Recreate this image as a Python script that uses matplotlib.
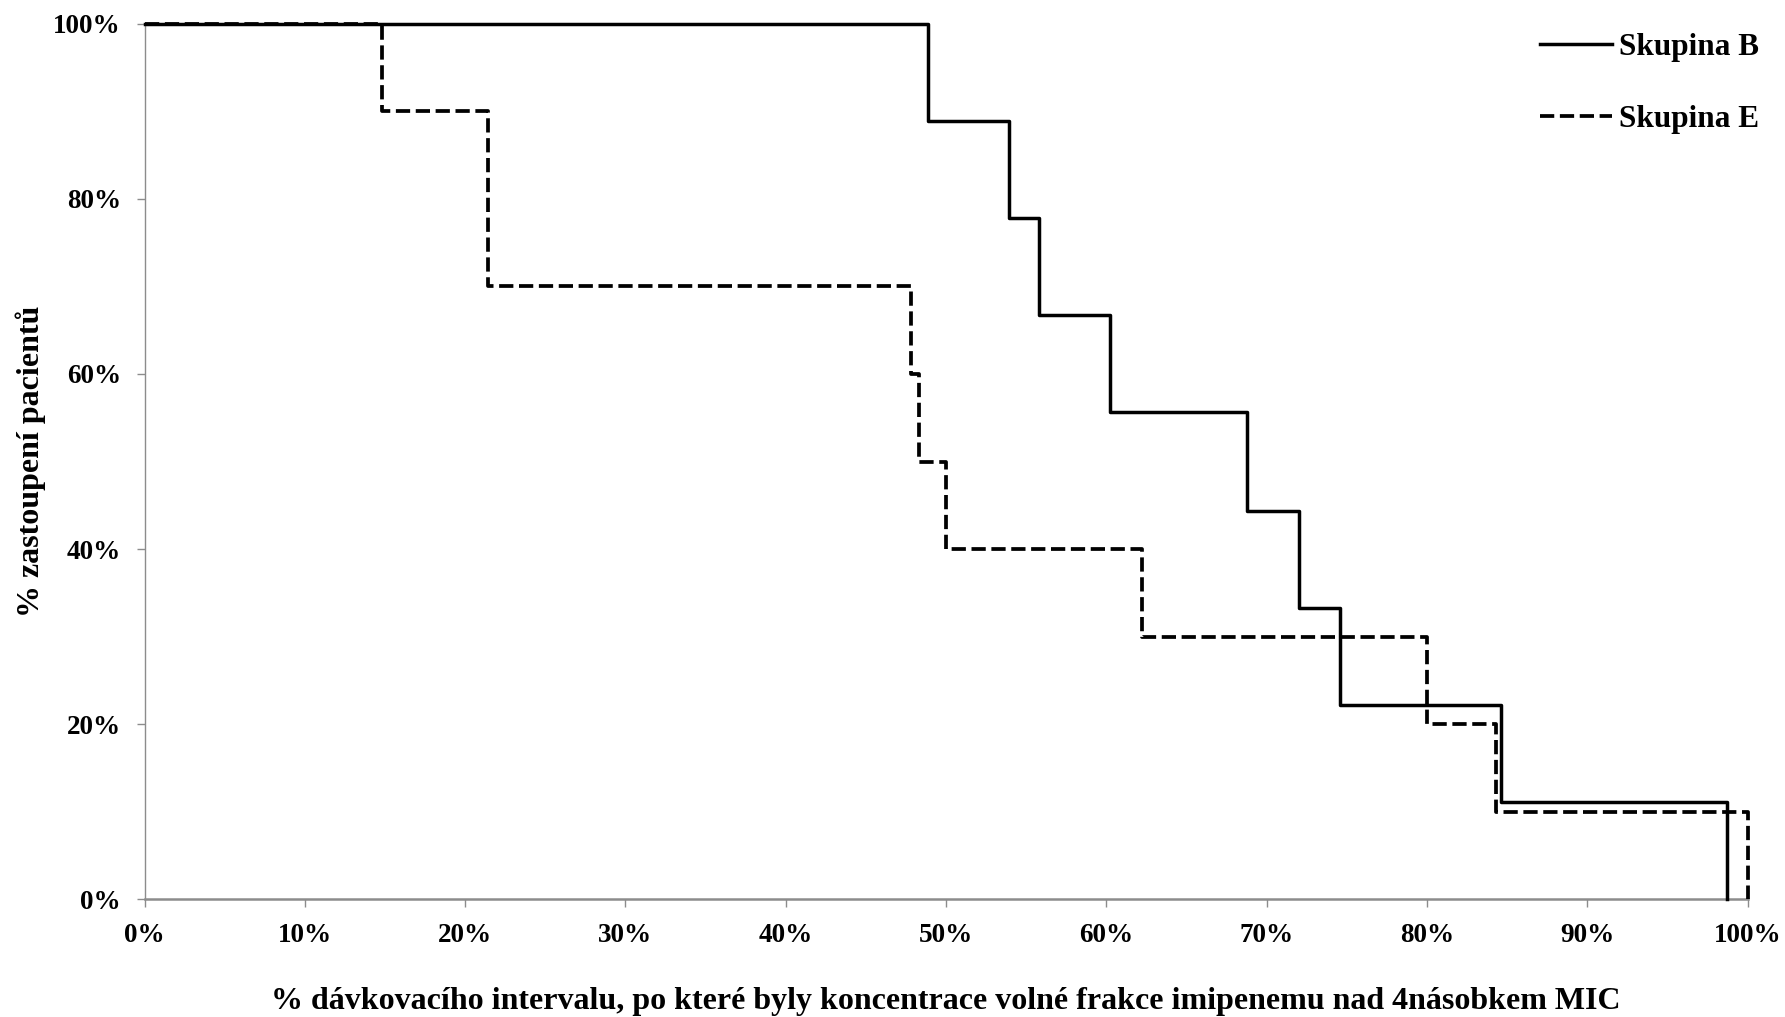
import matplotlib
matplotlib.use('Agg')
import matplotlib.pyplot as plt
import matplotlib.ticker as ticker

plt.rcParams['font.family'] = ['Liberation Serif', 'DejaVu Serif']
plt.rcParams['font.weight'] = 'bold'

# okamžiky poklesu (% intervalu) a podíl pacientů po poklesu
b_x = [48.9, 53.9, 55.8, 60.2, 68.8, 72.0, 74.6, 84.6, 98.7]
b_y = [88.9, 77.8, 66.7, 55.6, 44.4, 33.3, 22.2, 11.1, 0.0]
e_x = [14.8, 21.4, 47.8, 48.3, 50.0, 62.2, 80.0, 84.3, 100.0]
e_y = [90, 70, 60, 50, 40, 30, 20, 10, 0]

fig = plt.figure(figsize=(17.85, 10.17), dpi=100)
ax = fig.add_axes([0.081, 0.1157, 0.898, 0.861])

ax.step([0] + b_x, [100] + b_y, where='post', color='black', lw=2.5,
        label='Skupina B', clip_on=False, zorder=4)
ax.step([0] + e_x, [100] + e_y, where='post', color='black', lw=2.7,
        linestyle=(0, (3.8, 1.5)), label='Skupina E', clip_on=False, zorder=3)

ax.set_xlim(0, 100)
ax.set_ylim(0, 100)
ax.xaxis.set_major_locator(ticker.MultipleLocator(10))
ax.yaxis.set_major_locator(ticker.MultipleLocator(20))
ax.xaxis.set_major_formatter(ticker.FuncFormatter(lambda v, p: f'{v:.0f}%'))
ax.yaxis.set_major_formatter(ticker.FuncFormatter(lambda v, p: f'{v:.0f}%'))

for s in ['top', 'right']:
    ax.spines[s].set_visible(False)
ax.spines['left'].set_color('#8c8c8c')
ax.spines['left'].set_linewidth(1.0)
ax.spines['bottom'].set_color('#8c8c8c')
ax.spines['bottom'].set_linewidth(1.8)
ax.tick_params(axis='both', colors='#8c8c8c', length=6, width=1.0,
               labelsize=19.5, labelcolor='black', pad=11)

ax.set_xlabel('% dávkovacího intervalu, po které byly koncentrace volné frakce imipenemu nad 4násobkem MIC',
              fontsize=23, fontweight='bold', labelpad=28)
ax.set_ylabel('% zastoupení pacientů', fontsize=23, fontweight='bold', labelpad=5)

ax.legend(loc='upper right', bbox_to_anchor=(1.025, 1.022), frameon=False,
          fontsize=22.5, handlelength=2.3, handletextpad=0.25, labelspacing=1.4)

fig.savefig('out.png', dpi=100)
